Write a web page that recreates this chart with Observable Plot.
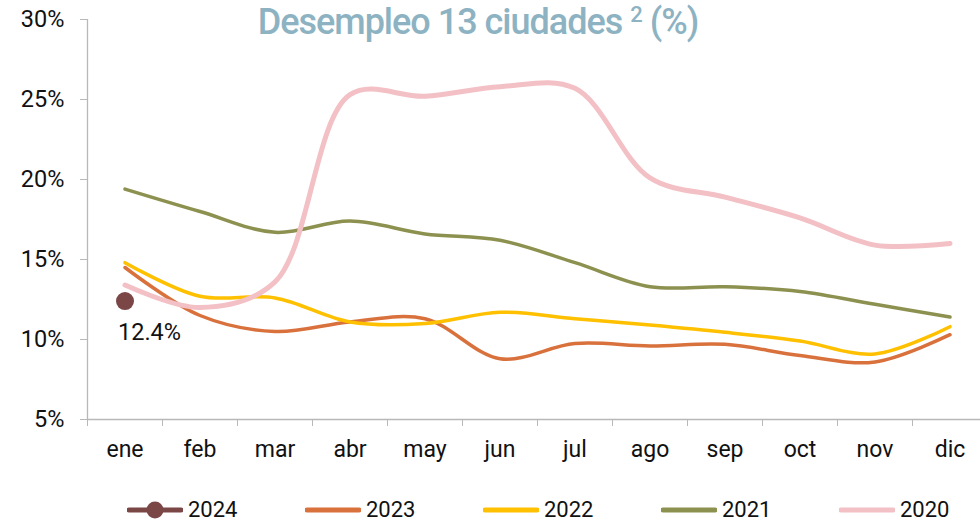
<!DOCTYPE html>
<html>
<head>
<meta charset="utf-8">
<script src="https://cdn.jsdelivr.net/npm/d3@7"></script>
<script src="https://cdn.jsdelivr.net/npm/@observablehq/plot@0.6"></script>
<style>
  html, body { margin: 0; padding: 0; background: #fff; }
  #wrap { position: relative; width: 980px; height: 524px; overflow: hidden; font-family: Roboto, "Open Sans", sans-serif; }
  #title { position: absolute; top: 1px; left: 0; width: 956px; text-align: center; font-size: 36px; font-weight: 500; color: #8db3c3; letter-spacing: -1px; z-index: 2; line-height: 42px; }
  #title sup { font-size: 22px; vertical-align: 0; position: relative; top: -12px; }
  #chart { position: absolute; top: 0; left: 0; }
  #legend { position: absolute; top: 499px; left: 127px; display: flex; }
  .item { width: 178px; display: flex; align-items: center; height: 22px; }
  .item svg { display: block; }
  .item span { font-size: 22px; line-height: 22px; color: #111; margin-left: 5px; }
</style>
</head>
<body>
<div id="wrap">
  <div id="title">Desempleo 13 ciudades <sup>2</sup> (%)</div>
  <div id="chart"></div>
  <div id="legend"></div>
</div>
<script>
const months = ["ene","feb","mar","abr","may","jun","jul","ago","sep","oct","nov","dic"];
const yTicks = [5, 10, 15, 20, 25, 30];
const years = ["2024","2023","2022","2021","2020"];
const v2024 = [12.4];
const v2023 = [14.5, 11.5, 10.5, 11.1, 11.3, 8.8, 9.75, 9.6, 9.7, 9.0, 8.6, 10.3];
const v2022 = [14.8, 12.7, 12.6, 11.1, 11.0, 11.7, 11.3, 10.9, 10.45, 9.9, 9.1, 10.8];
const v2021 = [19.4, 18.0, 16.7, 17.4, 16.6, 16.2, 14.8, 13.3, 13.3, 13.0, 12.2, 11.4];
const v2020 = [13.4, 12.0, 13.6, 25.3, 25.2, 25.8, 25.7, 20.1, 18.9, 17.6, 15.9, 16.0];
const colors = {"2024": "#7a4646", "2023": "#d9713d", "2022": "#ffc000", "2021": "#8d914f", "2020": "#f2c0c5"};
const widths = {"2023": 3.5, "2022": 3.5, "2021": 3.5, "2020": 5};

const series = {"2023": v2023, "2022": v2022, "2021": v2021, "2020": v2020};
const toRows = (yr, vals) => vals.map((v, i) => ({year: yr, x: i + 0.5, v, label: months[i]}));
const pt2024 = toRows("2024", v2024);

const lineMarks = ["2023","2022","2021","2020"].map(yr =>
  Plot.line(toRows(yr, series[yr]), {x: "x", y: "v", stroke: colors[yr], strokeWidth: widths[yr], curve: "catmull-rom", strokeLinecap: "round"})
);

const chart = Plot.plot({
  width: 980,
  height: 490,
  marginTop: 19,
  marginBottom: 71,
  marginLeft: 87,
  marginRight: 0,
  style: {fontFamily: "Roboto, 'Open Sans', sans-serif", background: "transparent", overflow: "visible"},
  x: {domain: [0, 12], range: [87, 987]},
  y: {domain: [5, 30], range: [419, 19]},
  marks: [
    Plot.ruleX([0], {stroke: "#b8b8b8", strokeWidth: 1.3}),
    Plot.ruleY([5], {stroke: "#b8b8b8", strokeWidth: 1.3}),
    Plot.axisY({ticks: yTicks, tickSize: 7, tickPadding: 16, stroke: "#b8b8b8", tickFormat: d => d + "%", fontSize: 23.5, fill: "#111", label: null}),
    Plot.axisX({ticks: d3.range(0, 13), tickSize: 7, stroke: "#b8b8b8", tickFormat: () => "", label: null}),
    Plot.axisX({ticks: months.map((m, i) => i + 0.5), tickSize: 0, tickPadding: 21, tickFormat: d => months[Math.floor(d)], fontSize: 23, fill: "#111", label: null}),
    ...lineMarks,
    Plot.dot(pt2024, {x: "x", y: "v", r: 9, fill: colors["2024"], stroke: "none"}),
    Plot.text(pt2024, {x: "x", y: "v", text: d => d.v.toFixed(1) + "%", dy: 31, dx: -7, textAnchor: "start", fontSize: 23.5, fill: "#111"})
  ]
});
document.getElementById("chart").appendChild(chart);

const legend = document.getElementById("legend");
years.forEach(yr => {
  const item = document.createElement("div");
  item.className = "item";
  const sw = yr === "2024"
    ? `<svg width="56" height="20"><line x1="2" x2="54" y1="10" y2="10" stroke="${colors[yr]}" stroke-width="5" stroke-linecap="round"/><circle cx="28" cy="10" r="8.5" fill="${colors[yr]}"/></svg>`
    : `<svg width="56" height="20"><line x1="2" x2="54" y1="10" y2="10" stroke="${colors[yr]}" stroke-width="5" stroke-linecap="round"/></svg>`;
  item.innerHTML = sw + `<span>${yr}</span>`;
  legend.appendChild(item);
});
</script>
</body>
</html>
